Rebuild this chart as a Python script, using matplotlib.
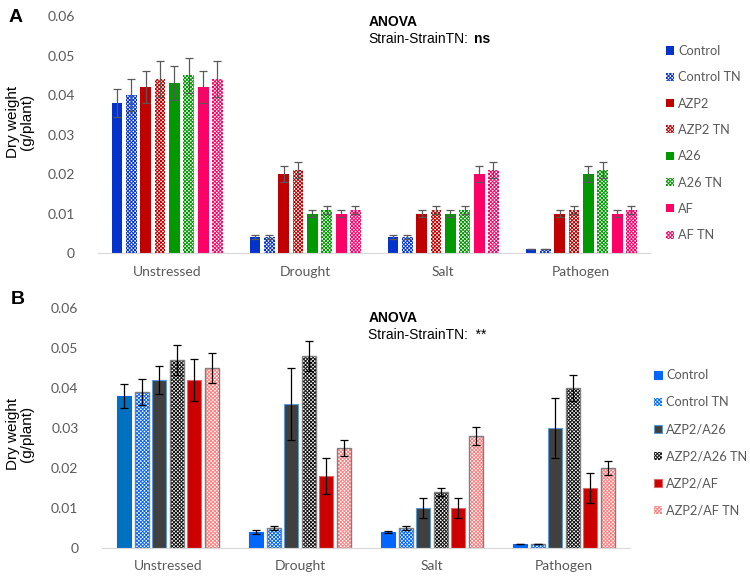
import numpy as np
import matplotlib.pyplot as plt
from matplotlib.patches import Patch

plt.rcParams['hatch.linewidth'] = 0.7

categories = ['Unstressed', 'Drought', 'Salt', 'Pathogen']

# panel A
labels_a = ['Control', 'Control TN', 'AZP2', 'AZP2 TN', 'A26', 'A26 TN', 'AF', 'AF TN']
vals_a = [
    [0.038, 0.004, 0.004, 0.001],
    [0.040, 0.004, 0.004, 0.001],
    [0.042, 0.020, 0.010, 0.010],
    [0.044, 0.021, 0.011, 0.011],
    [0.043, 0.010, 0.010, 0.020],
    [0.045, 0.011, 0.011, 0.021],
    [0.042, 0.010, 0.020, 0.010],
    [0.044, 0.011, 0.021, 0.011],
]
err_a = [
    [0.0035, 0.0005, 0.0005, 0.0001],
    [0.0040, 0.0005, 0.0005, 0.0001],
    [0.0040, 0.0020, 0.0010, 0.0010],
    [0.0045, 0.0020, 0.0010, 0.0010],
    [0.0043, 0.0010, 0.0010, 0.0020],
    [0.0045, 0.0010, 0.0010, 0.0020],
    [0.0040, 0.0010, 0.0020, 0.0010],
    [0.0045, 0.0010, 0.0020, 0.0010],
]
colors_a = ['#0433CC', '#0433CC', '#C00000', '#C00000', '#009900', '#009900', '#FF0066', '#FF0066']

# panel B
labels_b = ['Control', 'Control TN', 'AZP2/A26', 'AZP2/A26 TN', 'AZP2/AF', 'AZP2/AF TN']
vals_b = [
    [0.038, 0.004, 0.004, 0.001],
    [0.039, 0.005, 0.005, 0.001],
    [0.042, 0.036, 0.010, 0.030],
    [0.047, 0.048, 0.014, 0.040],
    [0.042, 0.018, 0.010, 0.015],
    [0.045, 0.025, 0.028, 0.020],
]
err_b = [
    [0.0031, 0.0004, 0.0003, 0.0001],
    [0.0032, 0.0004, 0.0004, 0.0001],
    [0.0035, 0.0090, 0.0025, 0.0075],
    [0.0037, 0.0038, 0.0010, 0.0032],
    [0.0052, 0.0045, 0.0025, 0.0038],
    [0.0037, 0.0020, 0.0023, 0.0017],
]
colors_b = ['#0066FF', '#0066FF', '#404040', '#111111', '#CC0000', '#FF8080']
edges_b = ['#0066FF', '#7F7F7F', '#5B9BD5', '#7F7F7F', '#E06666', '#7F7F7F']
tn_b = [False, True, False, True, False, True]

HATCH = 'xxxxxxxxx'

fig = plt.figure(figsize=(7.5, 5.77), dpi=100)
ax_a = fig.add_axes([0.131, 0.5615, 0.736, 0.4107])
ax_b = fig.add_axes([0.136, 0.0503, 0.704, 0.4159])

tick_font = dict(family='Lato', size=10, color='#595959')
x = np.arange(len(categories))


def style_axis(ax):
    ax.set_xlim(-0.5, 3.5)
    ax.set_ylim(0, 0.06)
    ax.set_yticks([0, 0.01, 0.02, 0.03, 0.04, 0.05, 0.06])
    ax.set_yticklabels(['0', '0.01', '0.02', '0.03', '0.04', '0.05', '0.06'], **tick_font)
    ax.set_xticks(x)
    ax.set_xticklabels(categories, **tick_font)
    for s in ['top', 'right', 'left']:
        ax.spines[s].set_visible(False)
    ax.spines['bottom'].set_color('#D9D9D9')
    ax.tick_params(axis='both', length=0)
    ax.tick_params(axis='y', pad=17)
    ax.tick_params(axis='x', pad=9)


# panel A bars
pitch, w = 0.104, 0.078
handles_a = []
for i, lab in enumerate(labels_a):
    pos = x + (i - 3.5) * pitch
    if i % 2 == 1:
        ax_a.bar(pos, vals_a[i], w, color='white', edgecolor=colors_a[i],
                 hatch=HATCH, linewidth=0)
        handles_a.append(Patch(facecolor='white', edgecolor=colors_a[i], hatch=HATCH, linewidth=0))
    else:
        ax_a.bar(pos, vals_a[i], w, color=colors_a[i], linewidth=0)
        handles_a.append(Patch(facecolor=colors_a[i], linewidth=0))
    ax_a.errorbar(pos, vals_a[i], yerr=err_a[i], fmt='none', ecolor='#595959',
                  elinewidth=0.9, capsize=3, capthick=0.9)
style_axis(ax_a)

# panel B bars
pitch, w = 0.133, 0.106
handles_b = []
for i, lab in enumerate(labels_b):
    pos = x + (i - 2.5) * pitch
    if tn_b[i]:
        ax_b.bar(pos, vals_b[i], w, color='white', edgecolor=colors_b[i],
                 hatch=HATCH, linewidth=0)
        ax_b.bar(pos, vals_b[i], w, fill=False, edgecolor=edges_b[i], linewidth=1.0)
        handles_b.append(Patch(facecolor='white', edgecolor=colors_b[i], hatch=HATCH, linewidth=0))
    else:
        bc = [colors_b[i]] * 4
        if i == 0:
            bc[0] = '#0070C0'
        ax_b.bar(pos, vals_b[i], w, color=bc, edgecolor=edges_b[i], linewidth=0.8)
        handles_b.append(Patch(facecolor=colors_b[i], edgecolor=edges_b[i], linewidth=0.8))
    ax_b.errorbar(pos, vals_b[i], yerr=err_b[i], fmt='none', ecolor='black',
                  elinewidth=0.9, capsize=3, capthick=0.9)
style_axis(ax_b)

leg_kw = dict(frameon=False, handlelength=0.6, handleheight=0.6, handletextpad=0.35,
              borderaxespad=0, borderpad=0, prop=dict(family='Lato', size=9.2))
leg = fig.legend(handles_a, labels_a, loc='upper left', bbox_to_anchor=(0.888, 0.922),
                 labelspacing=1.12, **leg_kw)
for t in leg.get_texts():
    t.set_color('#595959')
leg = fig.legend(handles_b, labels_b, loc='upper left', bbox_to_anchor=(0.872, 0.36),
                 labelspacing=1.18, **leg_kw)
for t in leg.get_texts():
    t.set_color('#595959')

# y labels
for yc in [0.788, 0.248]:
    fig.text(0.027, yc, 'Dry weight\n(g/plant)', rotation=90, ha='center', va='center',
             family='Liberation Sans', size=11, linespacing=1.0)

# panel letters
fig.text(0.012, 0.985, 'A', family='Liberation Sans', weight='bold', size=14, va='top')
fig.text(0.015, 0.495, 'B', family='Liberation Sans', weight='bold', size=14, va='top')

# ANOVA notes
fig.text(0.491, 0.962, 'ANOVA', family='Liberation Sans', weight='bold', size=10, va='center')
t = fig.text(0.491, 0.932, 'Strain-StrainTN:', family='Liberation Sans', size=10, va='center')
fig.canvas.draw()
bb = t.get_window_extent().transformed(fig.transFigure.inverted())
fig.text(bb.x1 + 0.008, 0.932, 'ns', family='Liberation Sans', weight='bold', size=10, va='center')
fig.text(0.491, 0.449, 'ANOVA', family='Liberation Sans', weight='bold', size=10, va='center')
fig.text(0.491, 0.419, 'Strain-StrainTN:  **', family='Liberation Sans', size=10, va='center')

fig.savefig('out.png', dpi=100)
